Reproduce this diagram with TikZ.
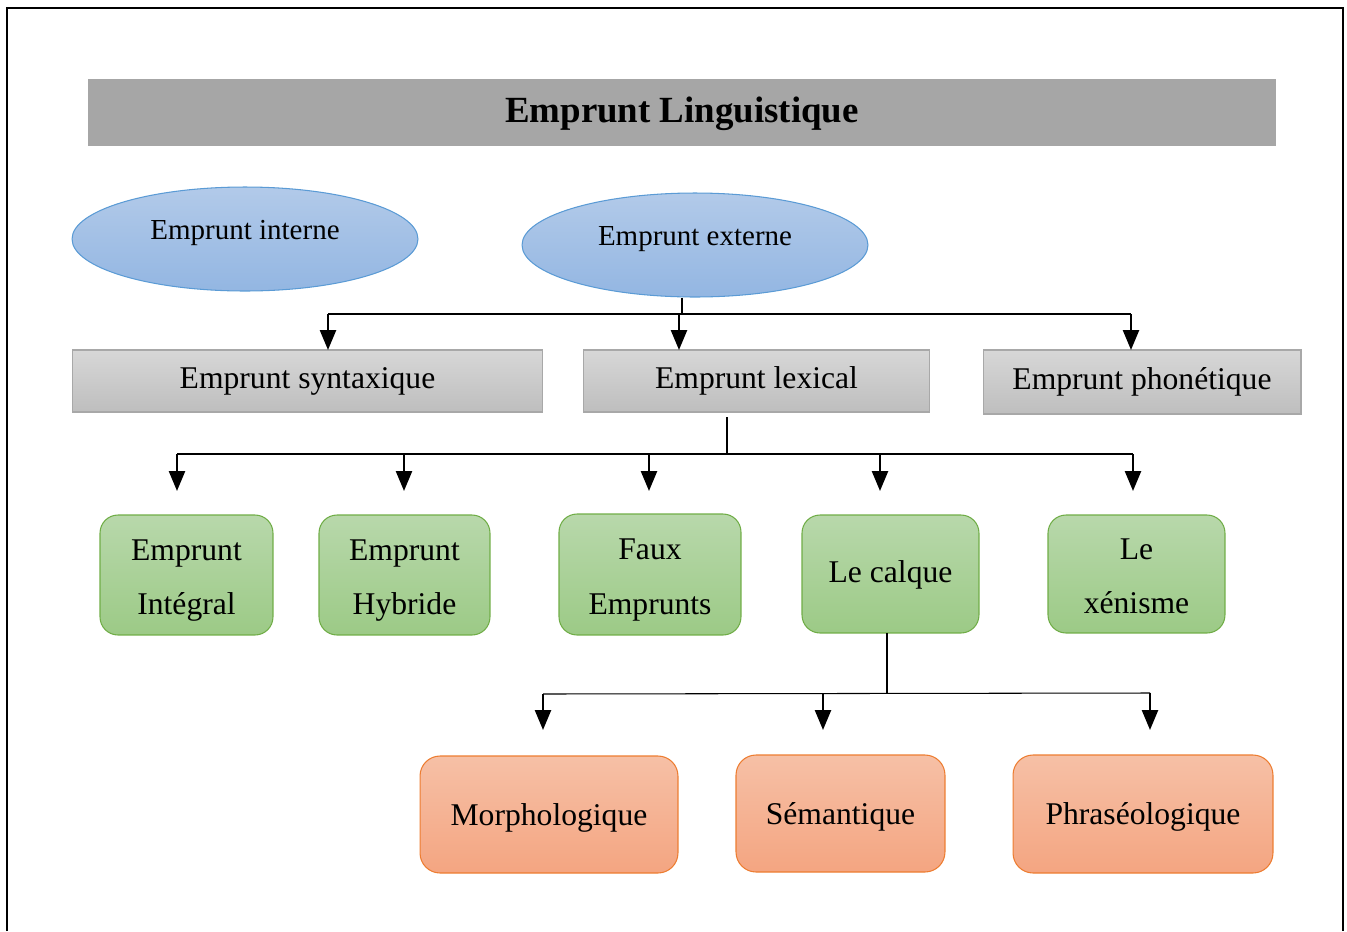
\documentclass[tikz,border=0pt]{standalone}
\usepackage{fontspec}
\setmainfont{Liberation Serif}
\usetikzlibrary{shapes.geometric,arrows.meta}
\definecolor{titlegray}{HTML}{A6A6A6}
\definecolor{boxgraytop}{HTML}{D7D7D7}
\definecolor{boxgraybot}{HTML}{BEBEBE}
\definecolor{boxgrayline}{HTML}{A8A8A8}
\definecolor{ovaltop}{HTML}{B2CAE9}
\definecolor{ovalbot}{HTML}{93B6E2}
\definecolor{ovalline}{HTML}{5B9BD5}
\definecolor{greentop}{HTML}{B8D8AB}
\definecolor{greenbot}{HTML}{9CCA86}
\definecolor{greenline}{HTML}{70AD47}
\definecolor{orangetop}{HTML}{F6C0A6}
\definecolor{orangebot}{HTML}{F4A581}
\definecolor{orangeline}{HTML}{ED7D31}
\begin{document}
\begin{tikzpicture}[x=0.02cm, y=-0.02cm,
  titlebar/.style={rectangle, fill=titlegray, inner sep=0, outer sep=0, minimum width=23.76cm, minimum height=1.34cm, text height=14pt, text depth=3pt, font=\fontsize{21pt}{25pt}\selectfont\bfseries},
  oval/.style={ellipse, draw=ovalline, line width=0.6pt, top color=ovaltop, bottom color=ovalbot, inner sep=0, minimum width=6.92cm, minimum height=2.08cm, text height=12pt, text depth=12pt, font=\fontsize{16.5pt}{20pt}\selectfont},
  graybox/.style={rectangle, draw=boxgrayline, line width=0.6pt, top color=boxgraytop, bottom color=boxgraybot, inner sep=0, outer sep=0, minimum height=1.24cm, text height=12pt, text depth=3pt, font=\fontsize{18pt}{22pt}\selectfont},
  greenbox/.style={rectangle, rounded corners=0.36cm, draw=greenline, line width=0.6pt, top color=greentop, bottom color=greenbot, inner sep=0, outer sep=0, align=center, text height=47pt, text depth=2pt, font=\fontsize{18pt}{31pt}\selectfont},
  orangebox/.style={rectangle, rounded corners=0.4cm, draw=orangeline, line width=0.6pt, top color=orangetop, bottom color=orangebot, inner sep=0, outer sep=0, minimum height=2.34cm, text height=13pt, text depth=1pt, font=\fontsize{18pt}{22pt}\selectfont},
  link/.style={line width=0.6pt},
  arr/.style={line width=1.4pt, -{Triangle[length=0.4cm, width=0.32cm]}}]
\useasboundingbox (0,0) rectangle (1347,931);
% frame
\draw[line width=1.4pt] (7,931) -- (7,8) -- (1343,8) -- (1343,931);
% title
\node[titlebar] (title) at (682,112.5) {Emprunt Linguistique};
% interne / externe
\node[oval] (intern) at (245,239) {Emprunt interne};
\node[oval] (extern) at (695,245) {Emprunt externe};
% second row
\node[graybox, minimum width=9.42cm] (syntax) at (307.5,381) {Emprunt syntaxique};
\node[graybox, minimum width=6.94cm] (lexical) at (756.5,381) {Emprunt lexical};
\node[graybox, minimum width=6.36cm, minimum height=1.28cm] (phonetic) at (1142,382) {Emprunt phonétique};
\coordinate (jext) at (682,314);
\coordinate (bar1l) at (328,314);
\coordinate (bar1r) at (1131,314);
\coordinate (arr1b) at (679,314);
\draw[link] (jext |- extern.south) -- (jext);
\draw[link] (bar1l) -- (bar1r);
\draw[arr] (bar1l) -- (bar1l |- syntax.north);
\draw[arr] (arr1b) -- (arr1b |- lexical.north);
\draw[arr] (bar1r) -- (bar1r |- phonetic.north);
% third row
\node[greenbox, minimum width=3.46cm, minimum height=2.4cm] (integral) at (186.5,575) {Emprunt\\Intégral};
\node[greenbox, minimum width=3.42cm, minimum height=2.4cm] (hybrid) at (404.5,575) {Emprunt\\Hybride};
\node[greenbox, minimum width=3.64cm, minimum height=2.42cm] (faux) at (650,574.5) {Faux\\Emprunts};
\node[greenbox, minimum width=3.54cm, minimum height=2.36cm, text height=12pt, text depth=2pt] (calque) at (890.5,574) {Le calque};
\node[greenbox, minimum width=3.54cm, minimum height=2.36cm] (xenism) at (1136.5,574) {Le\\xénisme};
\coordinate (jlex) at (727,454);
\coordinate (bar2l) at (177,454);
\coordinate (bar2r) at (1133,454);
\coordinate (arr2b) at (404,454);
\coordinate (arr2c) at (649,454);
\coordinate (arr2d) at (880,454);
\coordinate (tip2) at (0,491);
\draw[link] ([yshift=-0.1cm]jlex |- lexical.south) -- (jlex);
\draw[link] (bar2l) -- (bar2r);
\draw[arr] (bar2l) -- (bar2l |- tip2);
\draw[arr] (arr2b) -- (arr2b |- tip2);
\draw[arr] (arr2c) -- (arr2c |- tip2);
\draw[arr] (arr2d) -- (arr2d |- tip2);
\draw[arr] (bar2r) -- (bar2r |- tip2);
% fourth row
\node[orangebox, minimum width=5.16cm] (morpho) at (549,814.5) {Morphologique};
\node[orangebox, minimum width=4.18cm] (seman) at (840.5,813.5) {Sémantique};
\node[orangebox, minimum width=5.2cm, minimum height=2.36cm] (phraseo) at (1143,814) {Phraséologique};
\coordinate (jcal) at (887,693);
\coordinate (bar3l) at (543,694);
\coordinate (bar3r) at (1150,693);
\coordinate (arr3b) at (823,693.5);
\coordinate (tip3) at (0,730);
\draw[link] (jcal |- calque.south) -- (jcal);
\draw[link] (bar3l) -- (bar3r);
\draw[arr] (bar3l) -- (bar3l |- tip3);
\draw[arr] (arr3b) -- (arr3b |- tip3);
\draw[arr] (bar3r) -- (bar3r |- tip3);
\end{tikzpicture}
\end{document}
